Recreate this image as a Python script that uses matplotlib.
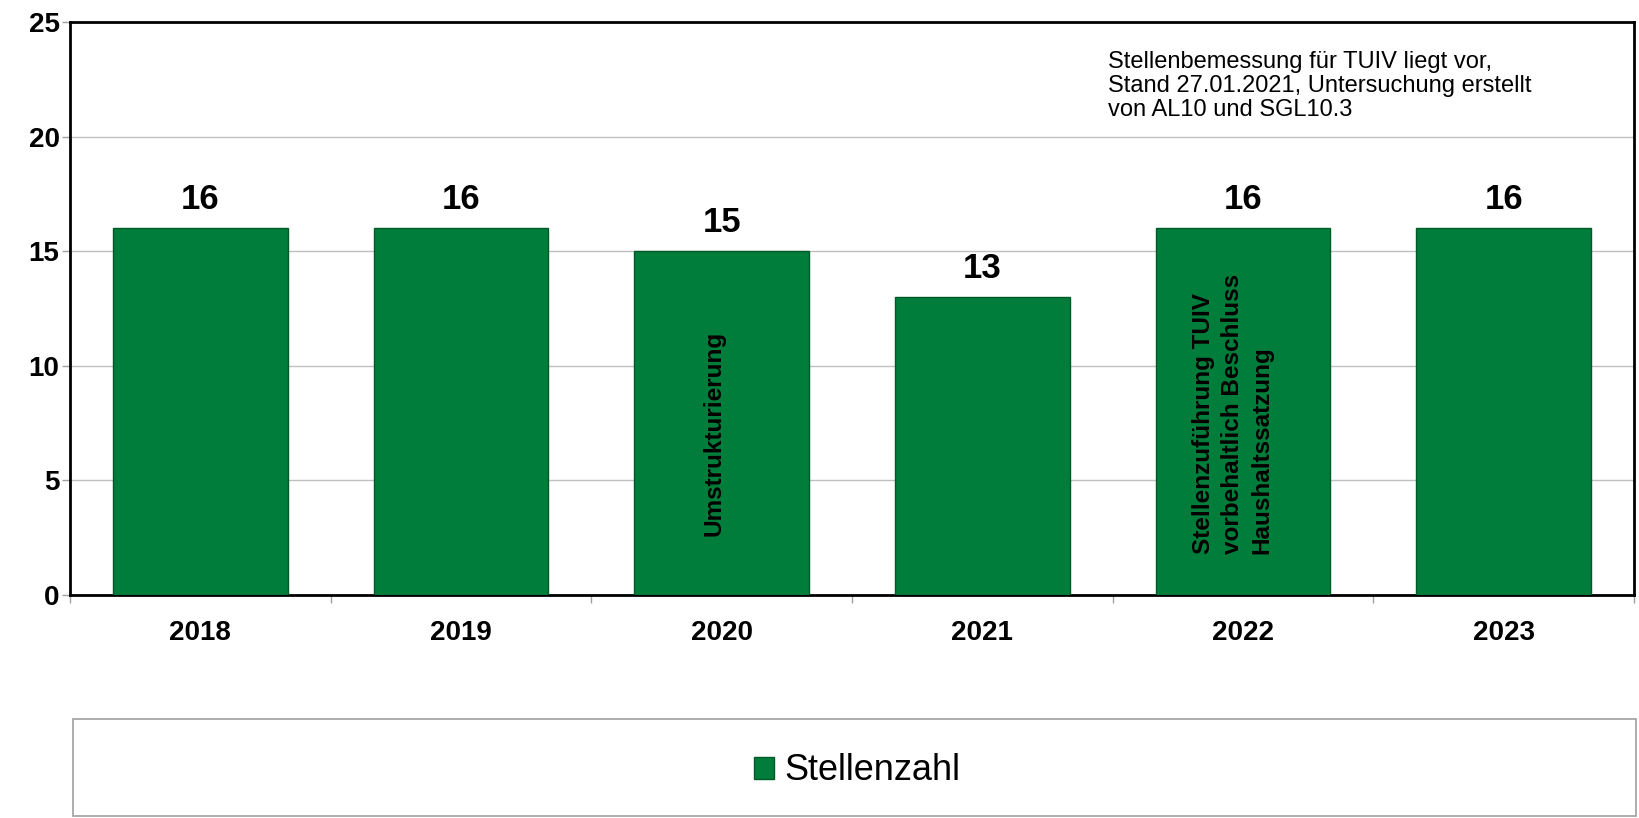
import matplotlib
matplotlib.use("Agg")
import matplotlib.pyplot as plt
from matplotlib.patches import Rectangle
import numpy as np

plt.rcParams['font.family'] = ['Liberation Sans', 'DejaVu Sans']

years = ['2018', '2019', '2020', '2021', '2022', '2023']
stellen = [16, 16, 15, 13, 16, 16]
series_name = 'Stellenzahl'
bar_notes = {2: 'Umstrukturierung',
             4: 'Stellenzuführung TUIV\nvorbehaltlich Beschluss\nHaushaltssatzung'}
note_text = ('Stellenbemessung für TUIV liegt vor,\n'
             'Stand 27.01.2021, Untersuchung erstellt\n'
             'von AL10 und SGL10.3')

green = '#007d3a'
edge = '#005a28'

W, H = 1640, 818


def main():
    fig = plt.figure(figsize=(W / 100, H / 100), dpi=100)
    ax = fig.add_axes([70 / W, 1 - 595 / H, (1634 - 70) / W, (595 - 22) / H])

    x = np.arange(len(years))
    bars = ax.bar(x, stellen, width=0.67, color=green, edgecolor=edge,
                  linewidth=1.0, label=series_name, zorder=3)

    for xi, v in zip(x, stellen):
        ax.text(xi, v + 0.83, str(v), ha='center', va='baseline',
                fontsize=25, fontweight='bold', zorder=4)

    for i, t in bar_notes.items():
        multi = '\n' in t
        ax.text(x[i] - (0.04 if multi else 0.03), 1.79 if multi else 2.57, t,
                rotation=90, ha='center', va='bottom', multialignment='left',
                fontsize=17.5, fontweight='bold', linespacing=1.35, zorder=4)

    ax.text(0.6637, 0.95, note_text, transform=ax.transAxes, ha='left', va='top',
            fontsize=17, linespacing=1.12)

    ax.set_xlim(-0.5, len(years) - 0.5)
    ax.set_ylim(0, 25)
    ax.set_yticks(range(0, 26, 5))
    ax.set_xticks(x)
    ax.set_xticklabels(years)
    ax.set_xticks(np.arange(-0.5, len(years), 1), minor=True)
    ax.tick_params(axis='x', which='major', length=0, pad=18, labelsize=20)
    ax.tick_params(axis='x', which='minor', length=6, color='#a0a0a0', width=1)
    ax.tick_params(axis='y', length=6, color='#a0a0a0', width=1, pad=1.5, labelsize=20)
    for lab in ax.get_xticklabels() + ax.get_yticklabels():
        lab.set_fontweight('bold')

    ax.grid(axis='y', color='#c0c0c0', linewidth=1, zorder=0)
    for s in ax.spines.values():
        s.set_color('black')
        s.set_linewidth(2)

    # legend box
    fig.patches.append(Rectangle((73 / W, 0.003), (1636 - 73) / W, 1 - 719 / H - 0.003,
                                 transform=fig.transFigure, facecolor='white',
                                 edgecolor='#a0a0a0', linewidth=1.2))
    fig.legend(handles=[bars], labels=[series_name], loc='center',
               bbox_to_anchor=(857 / W, 1 - 771 / H), frameon=False,
               fontsize=26, handlelength=0.55, handleheight=0.55, handletextpad=0.3)

    fig.savefig('out.png', dpi=100)


if __name__ == "__main__":
    main()
